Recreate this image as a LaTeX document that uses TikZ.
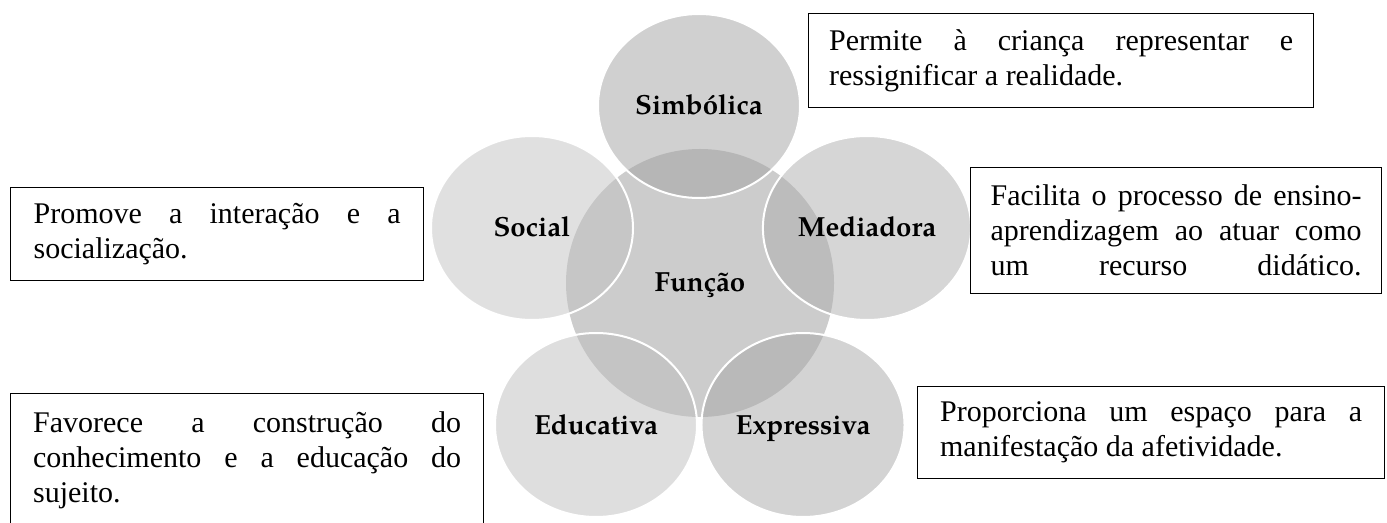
\documentclass[tikz,border=0pt]{standalone}
\usepackage{fontspec}
\setmainfont{Liberation Serif}
\newfontfamily\palfont{TeX Gyre Pagella}
\usetikzlibrary{shapes.geometric}
\hyphenpenalty=10000
\exhyphenpenalty=10000
\hbadness=10000
\definecolor{fungray}{gray}{0.80}
\definecolor{simgray}{gray}{0.63}
\definecolor{medgray}{gray}{0.68}
\definecolor{socgray}{gray}{0.76}
\definecolor{edugray}{gray}{0.74}
\definecolor{expgray}{gray}{0.655}
\tikzset{
  petal/.style={ellipse, minimum width=151.5pt, minimum height=138pt, draw=white, line width=1.5pt,
    fill opacity=0.5, text opacity=1, text height=17.5pt, text depth=4pt,
    font=\palfont\bfseries\fontsize{20.75}{24}\selectfont},
  note/.style={draw, line width=0.9pt, align=justify, anchor=north west, inner ysep=0pt,
    font=\fontsize{22.5}{26.25}\selectfont}
}
\begin{document}
\begin{tikzpicture}[x=0.75pt, y=-0.75pt]
\useasboundingbox (0,0) rectangle (1387,523);
\clip (0,0) rectangle (1387,523);
% centre
\node(Fun) [circle, fill=fungray, minimum size=201pt, text height=17.5pt, text depth=4pt,
  font=\palfont\bfseries\fontsize{20.75}{24}\selectfont] at (700,283) {Função};
% petals
\node(Sim) [petal, fill=simgray] at (699,106) {Simbólica};
\node(Soc) [petal, fill=socgray] at (532,228) {Social};
\node(Med) [petal, fill=medgray] at (867,228) {Mediadora};
\node(Edu) [petal, fill=edugray] at (596,425) {Educativa};
\node(Exp) [petal, fill=expgray] at (803,425) {Expressiva};
% notes
\node(SimT) [note, text width=348pt, inner xsep=15.4pt, minimum height=70.5pt] at (808,13)
  {Permite à criança representar e\linebreak ressignificar a realidade.};
\node(SocT) [note, text width=275.25pt, inner xsep=17.25pt, minimum height=69.75pt] at (10,187)
  {Promove a interação e a\linebreak socialização.};
\node(MedT) [note, text width=278.25pt, inner xsep=15pt, minimum height=94.5pt] at (970,167)
  {Facilita o processo de ensino-\linebreak aprendizagem ao atuar como\linebreak um\hfill recurso\hfill didático.};
\node(EduT) [note, text width=321pt, inner xsep=16.9pt, minimum height=100pt] at (10,393)
  {Favorece a construção do\linebreak conhecimento e a educação do\linebreak sujeito.};
\node(ExpT) [note, text width=316.5pt, inner xsep=16.9pt, minimum height=69pt] at (917,386)
  {Proporciona um espaço para a\linebreak manifestação da afetividade.};
\end{tikzpicture}
\end{document}
